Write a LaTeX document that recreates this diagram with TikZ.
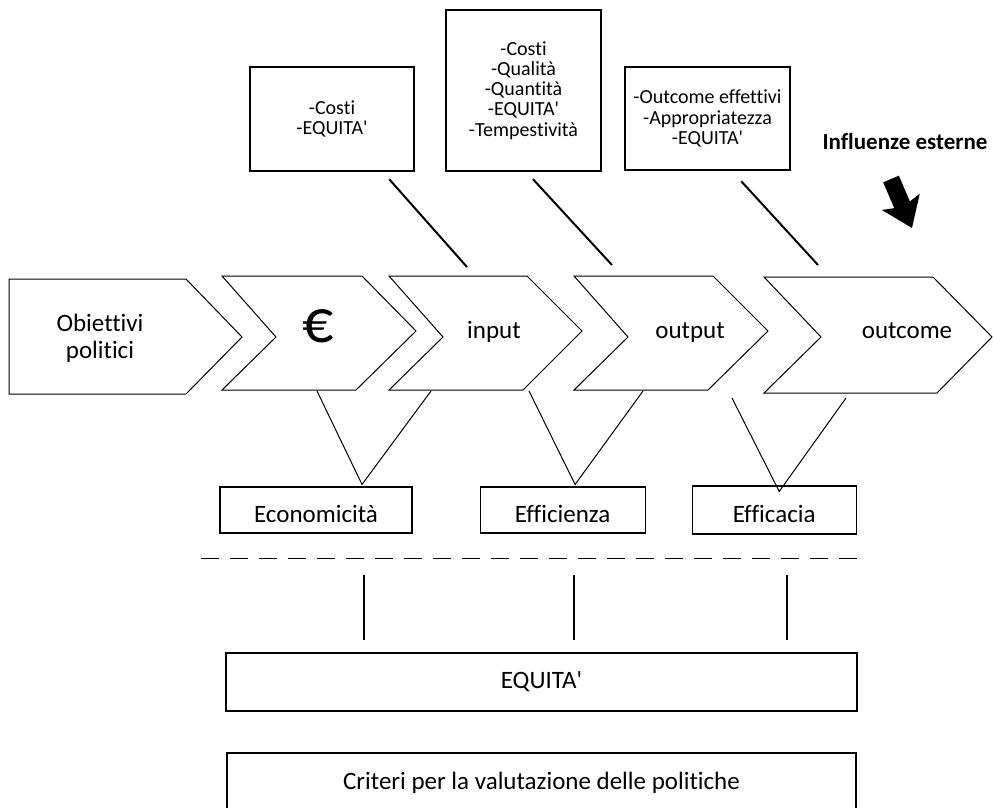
\documentclass[tikz,border=0pt]{standalone}
\usepackage{fontspec}
\newfontfamily\gillfont{Carlito}[Ligatures=NoCommon]
\usepackage{tikz}
\usetikzlibrary{arrows.meta,positioning}

\begin{document}
\begin{tikzpicture}[x=1pt, y=-1pt, >=latex]
  \tikzstyle{chevron} = [draw, line width=1pt, line join=miter, fill=white]
  \tikzstyle{stage} = [inner sep=0pt, font={\gillfont\fontsize{25}{27}\selectfont}]
  \tikzstyle{measure} = [draw, line width=2.4pt, align=center, inner sep=0pt, font={\gillfont\fontsize{20}{20.2}\selectfont}]
  \tikzstyle{criterion} = [draw, line width=1.1pt, inner sep=0pt, minimum height=46pt, text height=24pt, text depth=0pt, font={\gillfont\fontsize{25}{27}\selectfont}]
  \tikzstyle{summary} = [draw, line width=2.2pt, inner sep=0pt, font={\gillfont\fontsize{25}{27}\selectfont}]
  \tikzstyle{link} = [black, line width=2pt]
  \tikzstyle{vee} = [black, line width=1pt, line join=miter]
  \tikzstyle{push} = [black, line width=17pt, -{Stealth[length=28pt, width=40pt, inset=5pt]}]

  \useasboundingbox (0,0) rectangle (993,807);

  \draw[chevron] (9,279) -- (186,279) -- (242,337) -- (186,394) -- (9,394) -- cycle;
  \foreach \xa/\xb/\xc/\xd/\xn in {222/362/416/356/276, 389/527/582/523/443, 574/713/768/708/628}
    \draw[chevron] (\xa,276) -- (\xb,276) -- (\xc,331) -- (\xd,390) -- (\xa,390) -- (\xn,337) -- cycle;
  \draw[chevron] (764,277) -- (933,277) -- (992,337) -- (937,393) -- (764,393) -- (821,337) -- cycle;

  \node[stage, align=center] (goals) at (100,338) {Obiettivi\\politici};
  \node[stage, anchor=base, font={\gillfont\fontsize{62}{70}\selectfont}] (euro) at (318,342) {€};
  \node[stage, anchor=base] (input) at (494,338) {input};
  \node[stage, anchor=base] (output) at (690,338) {output};
  \node[stage, anchor=base] (outcome) at (907,338) {outcome};

  \node[measure, minimum width=164pt, minimum height=104pt] (costs) at (332,119) {-Costi\\-EQUITA'};
  \node[measure, minimum width=155pt, minimum height=161pt] (quality) at (523.5,90.5) {-Costi\\-Qualità\\-Quantità\\-EQUITA'\\-Tempestività};
  \node[measure, minimum width=165pt, minimum height=103pt] (results) at (707.5,118.5) {-Outcome effettivi\\-Appropriatezza\\-EQUITA'};

  \node[anchor=base, inner sep=0pt, font={\gillfont\bfseries\fontsize{23}{27}\selectfont}] (external) at (905,149) {Influenze esterne};
  \coordinate (pushTail) at (891,179);
  \coordinate (pushTip) at (912,228);
  \draw[push] (pushTail) -- (pushTip);

  \coordinate (inTop) at (467,267);
  \coordinate (outTop) at (612,265);
  \coordinate (resTop) at (818,265);
  \draw[link] ([xshift=-26pt, yshift=-7pt]costs.south east) -- (inTop);
  \draw[link] ([xshift=9.5pt, yshift=-7pt]quality.south) -- (outTop);
  \draw[link] ([xshift=-50pt, yshift=-10pt]results.south east) -- (resTop);

  \node[criterion, minimum width=192pt] (economy) at (316,510) {Economicità};
  \node[criterion, minimum width=165pt] (efficiency) [right=67pt of economy] {Efficienza};
  \node[criterion, minimum width=164pt, minimum height=48pt] (efficacy) [right=46pt of efficiency] {Efficacia};

  \coordinate (euroFoot) at (317,391);
  \coordinate (inFootL) at (431,391);
  \coordinate (inFootR) at (529,391);
  \coordinate (outFoot) at (643,391);
  \coordinate (outFootR) at (732,398);
  \coordinate (endFoot) at (846,398);
  \draw[vee] (euroFoot) -- ([xshift=46pt, yshift=2pt]economy.north) -- (inFootL);
  \draw[vee] (inFootR) -- ([xshift=12.5pt, yshift=2pt]efficiency.north) -- (outFoot);
  \draw[vee] (outFootR) -- ([xshift=5pt, yshift=-6pt]efficacy.north) -- (endFoot);

  \draw[line width=1pt, dash pattern=on 18pt off 11pt] (201,558) -- (868,558);

  \node[summary, minimum width=631pt, minimum height=58pt] (equity) at (541.5,682) {EQUITA'};
  \node[summary, minimum width=629pt, minimum height=80pt, text depth=25pt] (criteria) [below=40pt of equity] {Criteri per la valutazione delle politiche};

  \foreach \x in {364,574,787}
    \draw[link] (\x,575) -- (\x,640);
\end{tikzpicture}
\end{document}
